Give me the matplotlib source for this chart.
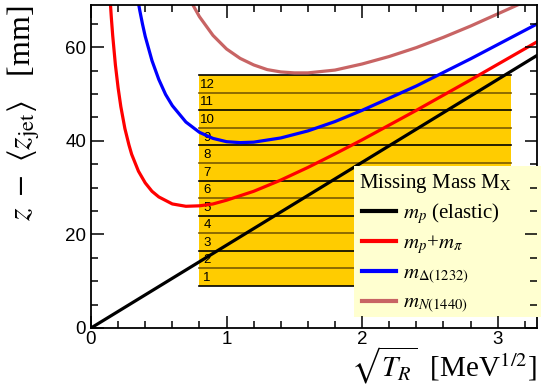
import numpy as np
import matplotlib
matplotlib.use('Agg')
import matplotlib.pyplot as plt
from matplotlib.patches import Rectangle
from matplotlib.ticker import MultipleLocator

plt.rcParams['font.family'] = ['Liberation Sans', 'DejaVu Sans']
plt.rcParams['mathtext.fontset'] = 'stix'

# curves: sqrt(T_R) [MeV^1/2] vs z - <z_jet> [mm]
x_el = [0.0, 3.3]
y_el = [0.0, 58.4]

x_pi = [0.14, 0.15, 0.16, 0.18, 0.20, 0.22, 0.25, 0.28, 0.30, 0.35, 0.40, 0.45, 0.50,
        0.60, 0.70, 0.80, 0.90, 1.0, 1.2, 1.4, 1.6, 1.8, 2.0, 2.4, 2.8, 3.3]
y_pi = [70.7, 66.3, 62.5, 56.2, 51.3, 47.3, 42.6, 39.1, 37.1, 33.5, 31.0, 29.2, 28.0,
        26.5, 26.0, 26.1, 26.5, 27.3, 29.2, 31.6, 34.3, 37.2, 40.2, 46.5, 53.0, 61.3]

x_del = [0.32, 0.34, 0.36, 0.38, 0.40, 0.45, 0.50, 0.55, 0.60, 0.70, 0.80, 0.90, 1.0,
         1.1, 1.2, 1.4, 1.6, 1.8, 2.0, 2.4, 2.8, 3.3]
y_del = [74.7, 71.0, 67.8, 64.9, 62.3, 57.1, 53.1, 49.9, 47.5, 44.0, 41.8, 40.5, 39.8,
         39.6, 39.7, 40.6, 42.1, 44.1, 46.5, 51.7, 57.5, 65.1]

x_n = [0.70, 0.75, 0.80, 0.90, 1.0, 1.1, 1.2, 1.3, 1.4, 1.5, 1.6, 1.8, 2.0, 2.2,
       2.4, 2.6, 2.8, 3.0, 3.2]
y_n = [72.3, 69.1, 66.5, 62.5, 59.6, 57.6, 56.2, 55.2, 54.7, 54.5, 54.5, 55.1, 56.4, 58.0,
       59.9, 62.1, 64.5, 67.1, 69.7]

# detector strips
strip_x = [0.80, 3.10]
strip_edges = [9.0, 12.75, 16.5, 20.25, 24.0, 27.75, 31.5, 35.25, 39.0, 42.75, 46.5, 50.25, 54.0]
strip_labels = [str(i) for i in range(1, 13)]

fig = plt.figure(figsize=(5.41, 3.89), dpi=100)
ax = fig.add_axes([91/541, 61/389, 446/541, 323/389])

# strips
for i in range(len(strip_labels)):
    lo, hi = strip_edges[i], strip_edges[i + 1]
    ax.add_patch(Rectangle((strip_x[0], lo), strip_x[1] - strip_x[0], hi - lo,
                           facecolor='#FFCC00', edgecolor='none', zorder=1))
    ax.text(strip_x[0] + 0.057, (lo + hi) / 2 - 0.2, strip_labels[i], fontsize=9.5,
            va='center', ha='center', zorder=1.2)
for j, e in enumerate(strip_edges[::-1]):
    c = 'black' if j % 2 == 0 else '#7A5A00'
    ax.plot(strip_x, [e, e], color=c, lw=1.2, zorder=1.1)

ax.plot(x_el, y_el, color='black', lw=2.3, label=r'$m_p$ (elastic)', zorder=2)
ax.plot(x_pi, y_pi, color='#FF0000', lw=2.3, label=r'$m_p$+$m_\pi$', zorder=2)
ax.plot(x_del, y_del, color='#0000FF', lw=2.3, label=r'$m_{\mathit{\Delta(1232)}}$', zorder=2)
ax.plot(x_n, y_n, color='#C86464', lw=2.3, label=r'$m_{\mathit{N(1440)}}$', zorder=2)

ax.set_xlim(0, 3.29)
ax.set_ylim(0, 69)
ax.xaxis.set_major_locator(MultipleLocator(1))
ax.xaxis.set_minor_locator(MultipleLocator(0.2))
ax.yaxis.set_major_locator(MultipleLocator(20))
ax.yaxis.set_minor_locator(MultipleLocator(5))
ax.tick_params(which='both', direction='in', top=True, right=True, width=1.1,
               labelsize=13.5)
ax.tick_params(which='major', length=9)
ax.tick_params(which='minor', length=5)
ax.tick_params(axis='x', pad=2)
for s in ax.spines.values():
    s.set_linewidth(1.3)
ax.xaxis.set_zorder(2.7)
ax.yaxis.set_zorder(2.7)

# legend box (ROOT style, fixed size)
ax.add_patch(Rectangle((354/541, 72/389), 187/541, 151/389, transform=fig.transFigure,
                       facecolor='#FFFFD0', edgecolor='none', zorder=2.6, clip_on=False))
fig.text(359/541, 1 - 188/389, r'Missing Mass M$_\mathrm{X}$', ha='left', va='baseline',
         fontsize=15, family='Liberation Serif')
leg = ax.legend(loc='upper left', bbox_to_anchor=(362/541, 1 - 201/389),
                bbox_transform=fig.transFigure,
                prop={'family': 'Liberation Serif', 'size': 15}, frameon=False,
                handlelength=1.63, handletextpad=0.36, labelspacing=0.36,
                borderaxespad=0, borderpad=0.0)
leg.set_zorder(2.8)
for h in leg.legend_handles:
    h.set_linewidth(3)

fig.text(537/541, 3/389, r'$\sqrt{T_R}$  [MeV$^{1/2}$]', ha='right', va='bottom',
         fontsize=21, family='Liberation Serif')
fig.text(24/541, 384/389, r'$z\ -\ \langle z_\mathrm{jet}\rangle$   [mm]', rotation=90,
         ha='center', va='top', fontsize=23, family='Liberation Serif')

fig.savefig('out.png', dpi=100)
